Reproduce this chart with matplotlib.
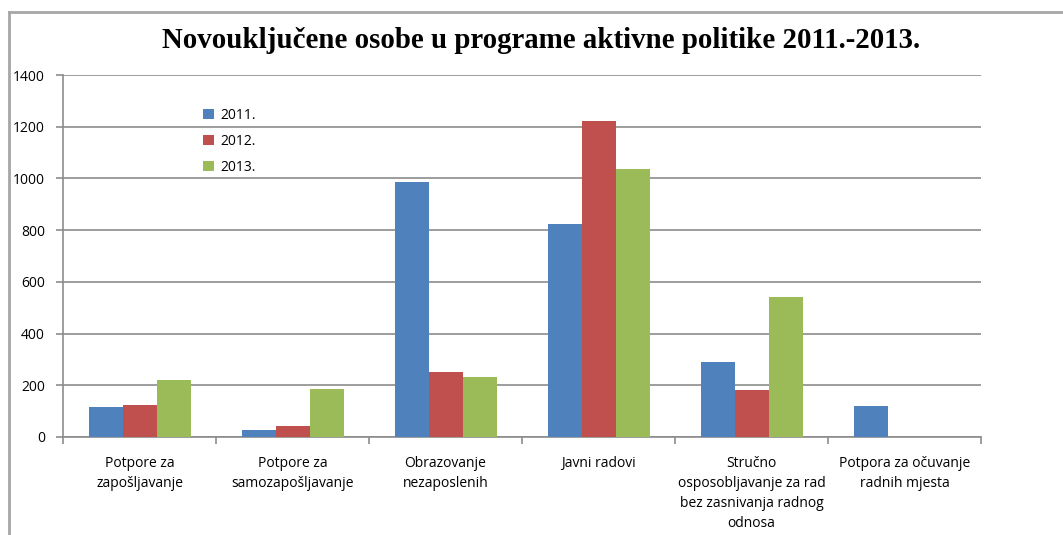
import matplotlib.pyplot as plt
from matplotlib.lines import Line2D
import numpy as np

# Data
categories = ["Potpore za\nzapošljavanje", "Potpore za\nsamozapošljavanje",
              "Obrazovanje\nnezaposlenih", "Javni radovi",
              "Stručno\nosposobljavanje za rad\nbez zasnivanja radnog\nodnosa",
              "Potpora za očuvanje\nradnih mjesta"]
years = ["2011.", "2012.", "2013."]
v2011 = [116, 28, 985, 825, 290, 121]
v2012 = [125, 42, 250, 1222, 180, 0]
v2013 = [222, 185, 231, 1037, 540, 0]
colors = ["#4F81BD", "#C0504D", "#9BBB59"]

def main():
    fig = plt.figure(figsize=(10.63, 5.35), dpi=100)
    ax = fig.add_axes([0.0593, 0.1832, 0.8636, 0.6766])

    x = np.arange(len(categories))
    w = 1 / 4.5
    for i, (vals, lab) in enumerate(zip([v2011, v2012, v2013], years)):
        ax.bar(x + (i - 1) * w, vals, w, color=colors[i], label=lab, zorder=3)

    ax.set_xlim(-0.5, len(categories) - 0.5)
    ax.set_ylim(0, 1400)
    ax.set_yticks(range(0, 1401, 200))
    ax.grid(axis='y', color='#8c8c8c', linewidth=1.2, zorder=0)

    # Category labels at group centres, tick marks at boundaries
    ax.set_xticks(x)
    ax.set_xticklabels(categories, fontsize=10, family='Open Sans', va='top', linespacing=1.45)
    ax.tick_params(axis='x', length=0, pad=14)
    ax.set_xticks(np.arange(-0.5, len(categories)), minor=True)
    ax.tick_params(axis='x', which='minor', length=5, color='#8c8c8c', width=1.2)
    ax.tick_params(axis='y', length=5, color='#8c8c8c', width=1.2, labelsize=10, pad=8)
    for t in ax.get_yticklabels():
        t.set_family('Open Sans')

    for s in ['top', 'right']:
        ax.spines[s].set_visible(False)
    for s in ['left', 'bottom']:
        ax.spines[s].set_color('#8c8c8c')
        ax.spines[s].set_linewidth(1.2)

    ax.legend(loc='upper left', bbox_to_anchor=(0.179, 0.822), bbox_transform=fig.transFigure,
              frameon=False, prop={'family': 'Open Sans', 'size': 10},
              handlelength=0.8, handleheight=0.8, handletextpad=0.5, labelspacing=0.8)

    fig.text(0.509, 0.925, "Novouključene osobe u programe aktivne politike 2011.-2013.",
             ha='center', va='center', fontsize=20.8, fontweight='bold', family='Liberation Serif')

    # chart area border (top and left)
    fig.add_artist(Line2D([9/1063, 1], [1 - 12/535, 1 - 12/535], color='#a6a6a6', lw=2))
    fig.add_artist(Line2D([9/1063, 9/1063], [0, 1 - 12/535], color='#a6a6a6', lw=2))

    fig.savefig('out.png', dpi=100)

main()
